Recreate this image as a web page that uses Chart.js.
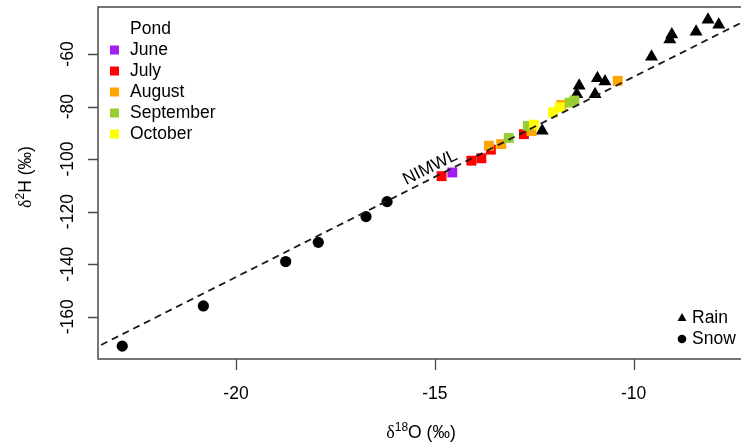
<!DOCTYPE html>
<html>
<head>
<meta charset="utf-8">
<script src="https://cdn.jsdelivr.net/npm/chart.js@4.4.1/dist/chart.umd.min.js"></script>
<style>
  html, body { margin: 0; padding: 0; background: #fff; }
</style>
</head>
<body>
<canvas id="chart" width="741" height="446"></canvas>
<script>
// d18O (x) and d2H (y) values, per month / precipitation type
const juneX = [-14.56];
const juneY = [-105.1];
const julyX = [-14.83, -14.08, -13.83, -13.59, -12.76];
const julyY = [-106.5, -100.6, -99.7, -96.4, -90.5];
const augustX = [-13.64, -13.33, -12.57, -11.82, -10.40];
const augustY = [-94.9, -94.3, -89.3, -79.4, -70.2];
const septemberX = [-13.14, -12.66, -11.61, -11.49];
const septemberY = [-92.0, -87.4, -78.5, -77.7];
const octoberX = [-12.51, -12.03, -11.86];
const octoberY = [-86.9, -82.2, -80.3];
const rainX = [-12.30, -11.43, -11.37, -10.97, -10.91, -10.72, -9.55, -9.09, -9.04, -8.43, -8.13, -7.86];
const rainY = [-89.2, -75.3, -72.1, -75.3, -69.2, -70.5, -61.0, -54.5, -52.6, -51.5, -47.0, -48.9];
const snowX = [-22.86, -20.82, -18.75, -17.93, -16.73, -16.20];
const snowY = [-171.2, -155.9, -139.0, -131.7, -121.9, -116.2];

// meteoric water line  d2H = slope * d18O + intercept
const nimwlSlope = 7.62;
const nimwlIntercept = 7.5;

const xTicks = [-20, -15, -10];
const yTicks = [-160, -140, -120, -100, -80, -60];
const xMin = -23.47, xMax = -7.30;
const yMin = -176.1, yMax = -42.1;

const FONT = '17.5px "Liberation Sans", Arial, sans-serif';

function pts(xs, ys) {
    return xs.map((x, i) => ({ x: x, y: ys[i] }));
}

const pondMonths = [
    { label: 'June', color: '#A020F0', xs: juneX, ys: juneY, order: 4 },
    { label: 'July', color: '#FF0000', xs: julyX, ys: julyY, order: 5 },
    { label: 'August', color: '#FFA500', xs: augustX, ys: augustY, order: 3 },
    { label: 'September', color: '#9ACD32', xs: septemberX, ys: septemberY, order: 2 },
    { label: 'October', color: '#FFFF00', xs: octoberX, ys: octoberY, order: 1 },
];

const datasets = [];
datasets.push({
    label: 'NIMWL',
    type: 'line',
    data: [xMin - 1, xMax + 1].map(x => ({ x: x, y: nimwlSlope * x + nimwlIntercept })),
    borderColor: '#1a1a1a',
    borderWidth: 1.8,
    borderDash: [7, 5],
    pointRadius: 0,
    fill: false,
    order: 0,
});
pondMonths.forEach(m => {
    datasets.push({
        label: m.label,
        pond: true,
        data: pts(m.xs, m.ys),
        pointStyle: 'rect',
        pointRadius: 7,
        backgroundColor: m.color,
        borderWidth: 0,
        order: m.order,
    });
});
datasets.push({
    label: 'Snow',
    data: pts(snowX, snowY),
    pointStyle: 'circle',
    pointRadius: 5.6,
    backgroundColor: '#000',
    borderWidth: 0,
    order: 6,
});
datasets.push({
    label: 'Rain',
    data: pts(rainX, rainY),
    pointStyle: 'triangle',
    pointRadius: 7.5,
    backgroundColor: '#000',
    borderWidth: 0,
    order: 7,
});

function fmt(v) {
    return String(v);
}

// text with a superscript piece, centred on x
function drawRich(ctx, parts, x, y) {
    let w = 0;
    parts.forEach(p => { ctx.font = p.font; w += ctx.measureText(p.t).width; });
    let cx = x - w / 2;
    ctx.textAlign = 'left';
    parts.forEach(p => {
        ctx.font = p.font;
        ctx.fillText(p.t, cx, y + (p.sup ? -7 : 0));
        cx += ctx.measureText(p.t).width;
    });
}

const decorations = {
    id: 'decorations',
    afterDraw(chart) {
        const ctx = chart.ctx;
        const a = chart.chartArea;
        const xs = chart.scales.x, ys = chart.scales.y;
        ctx.save();

        // plot box; right side runs off the canvas
        ctx.strokeStyle = '#4a4a4a';
        ctx.lineWidth = 1.5;
        ctx.beginPath();
        ctx.moveTo(a.right + 10, a.top);
        ctx.lineTo(a.left, a.top);
        ctx.lineTo(a.left, a.bottom);
        ctx.lineTo(a.right + 10, a.bottom);
        ctx.stroke();

        // tick marks
        ctx.lineWidth = 1.3;
        ctx.beginPath();
        xTicks.forEach(v => {
            const px = Math.round(xs.getPixelForValue(v)) + 0.5;
            ctx.moveTo(px, a.bottom);
            ctx.lineTo(px, a.bottom + 11);
        });
        yTicks.forEach(v => {
            const py = Math.round(ys.getPixelForValue(v)) + 0.5;
            ctx.moveTo(a.left, py);
            ctx.lineTo(a.left - 10, py);
        });
        ctx.stroke();

        // tick labels
        ctx.fillStyle = '#000';
        ctx.font = FONT;
        ctx.textAlign = 'center';
        ctx.textBaseline = 'alphabetic';
        xTicks.forEach(v => ctx.fillText(fmt(v), xs.getPixelForValue(v), 399));
        yTicks.forEach(v => {
            ctx.save();
            ctx.translate(73, ys.getPixelForValue(v));
            ctx.rotate(-Math.PI / 2);
            ctx.fillText(fmt(v), 0, 0);
            ctx.restore();
        });

        // axis titles
        const serif = '18px "Liberation Serif", "Times New Roman", serif';
        const sup = '12px "Liberation Sans", Arial, sans-serif';
        drawRich(ctx, [
            { t: '\u03B4', font: serif },
            { t: '18', font: sup, sup: true },
            { t: 'O (\u2030)', font: FONT },
        ], 421, 438);
        ctx.save();
        ctx.translate(31, 177);
        ctx.rotate(-Math.PI / 2);
        drawRich(ctx, [
            { t: '\u03B4', font: serif },
            { t: '2', font: sup, sup: true },
            { t: 'H (\u2030)', font: FONT },
        ], 0, 0);
        ctx.restore();

        // NIMWL label along the line
        const lx = -15.0;
        const p0x = xs.getPixelForValue(lx), p0y = ys.getPixelForValue(nimwlSlope * lx + nimwlIntercept);
        const p1x = xs.getPixelForValue(lx + 1), p1y = ys.getPixelForValue(nimwlSlope * (lx + 1) + nimwlIntercept);
        const ang = Math.atan2(p1y - p0y, p1x - p0x);
        ctx.save();
        ctx.translate(p0x, p0y);
        ctx.rotate(ang);
        ctx.font = FONT;
        ctx.textAlign = 'center';
        ctx.textBaseline = 'alphabetic';
        ctx.fillText('NIMWL', 0, -5.5);
        ctx.restore();

        // pond legend (top left)
        ctx.font = FONT;
        ctx.textAlign = 'left';
        ctx.textBaseline = 'middle';
        ctx.fillText('Pond', 130, 29);
        const ponds = chart.data.datasets.filter(d => d.pond);
        ponds.forEach((d, i) => {
            const y = 50 + i * 21;
            ctx.fillStyle = d.backgroundColor;
            ctx.fillRect(110, y - 4.5, 9, 9);
            ctx.fillStyle = '#000';
            ctx.fillText(d.label, 130, y + 0.5);
        });

        // precipitation legend (bottom right)
        ctx.fillStyle = '#000';
        ctx.beginPath();
        ctx.moveTo(682, 313);
        ctx.lineTo(686.5, 321);
        ctx.lineTo(677.5, 321);
        ctx.closePath();
        ctx.fill();
        ctx.fillText('Rain', 692, 318);
        ctx.beginPath();
        ctx.arc(682, 339, 4.3, 0, Math.PI * 2);
        ctx.fill();
        ctx.fillText('Snow', 692, 339);

        ctx.restore();
    }
};

new Chart(document.getElementById('chart'), {
    type: 'scatter',
    data: { datasets: datasets },
    options: {
        responsive: false,
        animation: false,
        devicePixelRatio: 1,
        layout: { autoPadding: false, padding: { top: 7, left: 0, right: 0, bottom: 0 } },
        plugins: {
            legend: { display: false },
            tooltip: { enabled: false },
        },
        scales: {
            x: {
                type: 'linear',
                min: xMin,
                max: xMax,
                grid: { display: false },
                border: { display: false },
                ticks: { display: false },
                afterFit: s => { s.height = 87; },
            },
            y: {
                type: 'linear',
                min: yMin,
                max: yMax,
                grid: { display: false },
                border: { display: false },
                ticks: { display: false },
                afterFit: s => { s.width = 98; },
            },
        },
    },
    plugins: [decorations],
});
</script>
</body>
</html>
